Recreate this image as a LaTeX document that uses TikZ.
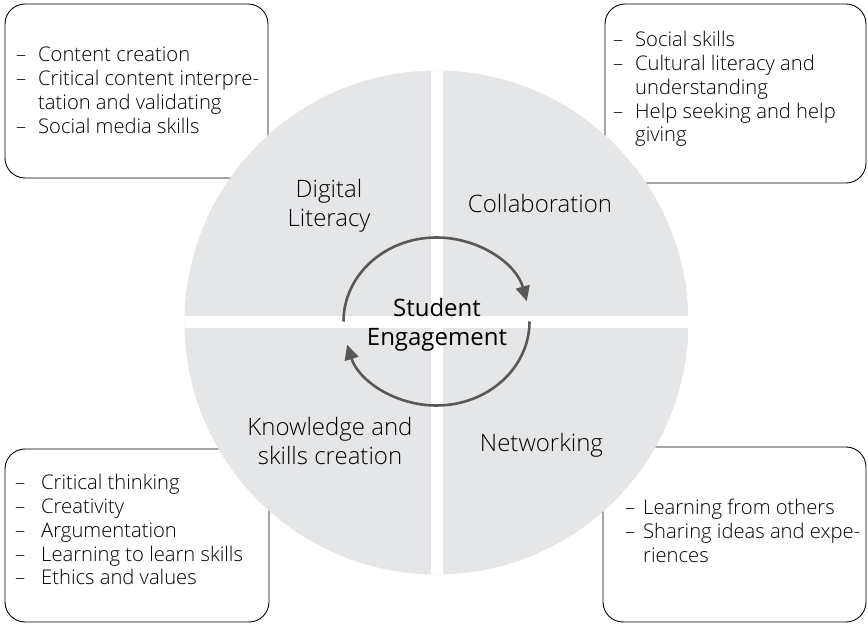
\documentclass[tikz,border=0pt]{standalone}
\usepackage{fontspec}
\setmainfont{Open Sans}
\IfFontExistsTF{Open Sans Light}{\newfontfamily\lightfont{Open Sans Light}}{\newfontfamily\lightfont{Open Sans}}
\usetikzlibrary{arrows.meta}
\definecolor{qgrey}{RGB}{229,230,232}
\definecolor{arrowgrey}{RGB}{88,88,88}
\newcommand{\itemlist}[2]{\begin{tabular}[t]{@{}p{#1}@{}l@{}}#2\end{tabular}}
\begin{document}
\begin{tikzpicture}[x=1pt,y=1pt,
  box/.style={draw=black, line width=0.9pt, rounded corners=20pt, inner sep=0pt},
  lst/.style={anchor=base west, inner sep=0pt, font=\lightfont\fontsize{20.2}{23.7}\selectfont},
  quad/.style={anchor=base, inner sep=0pt, font=\lightfont\fontsize{24}{29}\selectfont},
  centre/.style={anchor=base, inner sep=0pt, font=\fontsize{24}{29}\selectfont},
  cyc/.style={draw=arrowgrey, line width=2.6pt, -{Triangle[length=15pt,width=14pt]}}]
\useasboundingbox (0,0) rectangle (868,624);
% boxes
\node[box, minimum width=263pt, minimum height=174pt] (tlbox) at (136.5,533) {};
\node[box, minimum width=261pt, minimum height=179pt] (trbox) at (735.5,530.5) {};
\node[box, minimum width=264pt, minimum height=173pt] (blbox) at (137,88.5) {};
\node[box, minimum width=263pt, minimum height=175pt] (brbox) at (734.5,89.5) {};
% circle
\coordinate (c) at (436.5,301.5);
\begin{scope}
  \clip (c) circle (252);
  \fill[qgrey] (c) circle (252);
  \fill[white] (430.5,0) rectangle (442.5,624);
  \fill[white] (0,295.5) rectangle (868,307.5);
\end{scope}
% quadrant labels
\node[quad] (dl) at (329,426) {\begin{tabular}[t]{@{}c@{}}Digital\\Literacy\end{tabular}};
\node[quad] (co) at (540,411) {Collaboration};
\node[quad] (ks) at (330,188) {\begin{tabular}[t]{@{}c@{}}Knowledge and\\skills creation\end{tabular}};
\node[quad] (nw) at (541.5,172) {Networking};
% centre
\node[centre] (se) at (437,307) {\begin{tabular}[t]{@{}c@{}}Student\\Engagement\end{tabular}};
% cycle arrows
\draw[cyc] ([shift={(180:93 and 84)}]436.5,302.5) arc[start angle=180, end angle=14, x radius=93, y radius=84];
\draw[cyc] ([shift={(0:93 and 84)}]436.5,302.5) arc[start angle=0, end angle=-164, x radius=93, y radius=84];
% lists
\node[lst] (tltext) at (16,562) {\itemlist{22pt}{\textendash & Content creation\\
\textendash & Critical content interpre-\\
 & tation and validating\\
\textendash & Social media skills}};
\node[lst] (trtext) at (613,577) {\itemlist{22pt}{\textendash & Social skills\\
\textendash & Cultural literacy and\\
 & understanding\\
\textendash & Help seeking and help\\
 & giving}};
\node[lst] (bltext) at (15,134) {\itemlist{26pt}{\textendash & Critical thinking\\
\textendash & Creativity\\
\textendash & Argumentation\\
\textendash & Learning to learn skills\\
\textendash & Ethics and values}};
\node[lst] (brtext) at (625,109) {\itemlist{18pt}{\textendash & Learning from others\\
\textendash & Sharing ideas and expe-\\
 & riences}};
\end{tikzpicture}
\end{document}
